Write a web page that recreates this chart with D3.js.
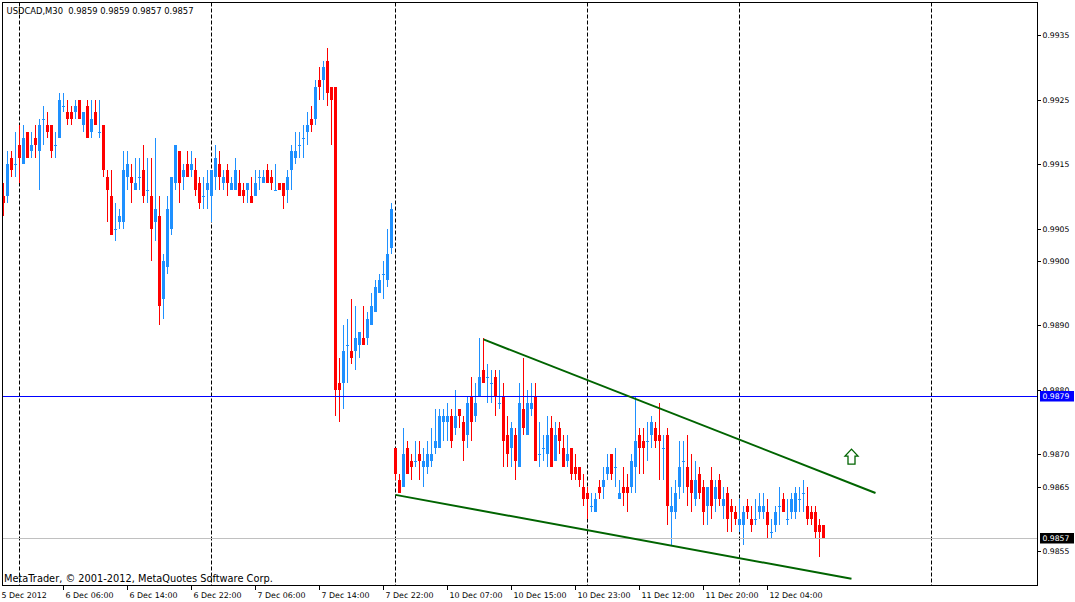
<!DOCTYPE html>
<html>
<head>
<meta charset="utf-8">
<script src="https://cdnjs.cloudflare.com/ajax/libs/d3/7.8.5/d3.min.js"></script>
<style>
    html, body { margin: 0; padding: 0; background: #ffffff; overflow: hidden; }
    text { font-family: "DejaVu Sans", sans-serif; fill: #000000; }
</style>
</head>
<body>
<script>
// USDCAD M30 bars (one entry per bar, left to right)
let symbol = "USDCAD,M30";

let opens = [
    0.9910, 0.9910, 0.9916, 0.9915, 0.9918, 0.9915, 0.9920, 0.9917, 0.9919, 0.9917,
    0.9922, 0.9921, 0.9921, 0.9918, 0.9919, 0.9924, 0.9923, 0.9923, 0.9923, 0.9925,
    0.9921, 0.9924, 0.9920, 0.9923, 0.9920, 0.9921, 0.9913, 0.9910, 0.9905, 0.9906,
    0.9906, 0.9913, 0.9913, 0.9911, 0.9913, 0.9914, 0.9911, 0.9910, 0.9906, 0.9907,
    0.9894, 0.9899, 0.9905, 0.9912, 0.9917, 0.9913, 0.9915, 0.9914, 0.9914, 0.9912,
    0.9910, 0.9911, 0.9910, 0.9913, 0.9915, 0.9912, 0.9914, 0.9911, 0.9911, 0.9912,
    0.9911, 0.9911, 0.9910, 0.9910, 0.9913, 0.9912, 0.9914, 0.9913, 0.9911, 0.9912,
    0.9912, 0.9911, 0.9914, 0.9916, 0.9918, 0.9919, 0.9920, 0.9922, 0.9922, 0.9928,
    0.9928, 0.9931, 0.9927, 0.9927, 0.9881, 0.9881, 0.9887, 0.9886, 0.9886, 0.9887,
    0.9888, 0.9888, 0.9890, 0.9892, 0.9895, 0.9898, 0.9897, 0.9902, 0.9871, 0.9866,
    0.9865, 0.9871, 0.9869, 0.9869, 0.9870, 0.9868, 0.9868, 0.9869, 0.9871, 0.9871,
    0.9875, 0.9875, 0.9876, 0.9874, 0.9877, 0.9875, 0.9873, 0.9879, 0.9876, 0.9879,
    0.9883, 0.9882, 0.9881, 0.9882, 0.9878, 0.9879, 0.9873, 0.9871, 0.9873, 0.9868,
    0.9877, 0.9873, 0.9877, 0.9879, 0.9870, 0.9871, 0.9870, 0.9874, 0.9869, 0.9874,
    0.9871, 0.9869, 0.9871, 0.9868, 0.9868, 0.9865, 0.9864, 0.9862, 0.9861, 0.9865,
    0.9865, 0.9867, 0.9870, 0.9868, 0.9863, 0.9865, 0.9865, 0.9865, 0.9868, 0.9873,
    0.9872, 0.9872, 0.9873, 0.9874, 0.9873, 0.9871, 0.9873, 0.9861, 0.9861, 0.9865,
    0.9869, 0.9868, 0.9866, 0.9863, 0.9867, 0.9865, 0.9862, 0.9866, 0.9863, 0.9866,
    0.9862, 0.9864, 0.9862, 0.9861, 0.9859, 0.9859, 0.9862, 0.9860, 0.9860, 0.9861,
    0.9861, 0.9861, 0.9858, 0.9859, 0.9862, 0.9863, 0.9860, 0.9861, 0.9861, 0.9863,
    0.9864, 0.9862, 0.9861, 0.9861, 0.9859, 0.9859
];
let highs = [
    0.9912, 0.9917, 0.9917, 0.9920, 0.9921, 0.9921, 0.9920, 0.9920, 0.9921, 0.9922,
    0.9924, 0.9923, 0.9921, 0.9920, 0.9926, 0.9926, 0.9925, 0.9924, 0.9925, 0.9925,
    0.9923, 0.9925, 0.9925, 0.9925, 0.9925, 0.9921, 0.9914, 0.9914, 0.9909, 0.9908,
    0.9917, 0.9917, 0.9915, 0.9916, 0.9916, 0.9918, 0.9916, 0.9916, 0.9919, 0.9910,
    0.9901, 0.9910, 0.9913, 0.9918, 0.9917, 0.9915, 0.9917, 0.9917, 0.9916, 0.9913,
    0.9913, 0.9914, 0.9914, 0.9918, 0.9917, 0.9914, 0.9915, 0.9913, 0.9916, 0.9914,
    0.9912, 0.9912, 0.9913, 0.9914, 0.9914, 0.9914, 0.9915, 0.9914, 0.9915, 0.9912,
    0.9912, 0.9914, 0.9918, 0.9920, 0.9920, 0.9921, 0.9923, 0.9924, 0.9928, 0.9930,
    0.9931, 0.9933, 0.9927, 0.9927, 0.9885, 0.9890, 0.9891, 0.9894, 0.9893, 0.9889,
    0.9893, 0.9892, 0.9895, 0.9897, 0.9898, 0.9900, 0.9905, 0.9909, 0.9871, 0.9867,
    0.9874, 0.9872, 0.9870, 0.9872, 0.9872, 0.9871, 0.9872, 0.9874, 0.9877, 0.9877,
    0.9877, 0.9878, 0.9877, 0.9880, 0.9877, 0.9876, 0.9879, 0.9882, 0.9881, 0.9888,
    0.9888, 0.9884, 0.9883, 0.9883, 0.9883, 0.9881, 0.9876, 0.9875, 0.9874, 0.9881,
    0.9885, 0.9880, 0.9881, 0.9881, 0.9875, 0.9873, 0.9876, 0.9876, 0.9875, 0.9875,
    0.9873, 0.9873, 0.9871, 0.9870, 0.9868, 0.9867, 0.9865, 0.9864, 0.9864, 0.9866,
    0.9868, 0.9870, 0.9870, 0.9871, 0.9866, 0.9868, 0.9867, 0.9870, 0.9879, 0.9874,
    0.9874, 0.9875, 0.9876, 0.9875, 0.9878, 0.9873, 0.9874, 0.9865, 0.9866, 0.9872,
    0.9872, 0.9873, 0.9870, 0.9869, 0.9868, 0.9866, 0.9865, 0.9868, 0.9866, 0.9867,
    0.9865, 0.9865, 0.9863, 0.9862, 0.9863, 0.9862, 0.9863, 0.9862, 0.9863, 0.9864,
    0.9864, 0.9863, 0.9860, 0.9862, 0.9865, 0.9864, 0.9863, 0.9864, 0.9865, 0.9865,
    0.9866, 0.9865, 0.9862, 0.9862, 0.9860, 0.9859
];
let lows = [
    0.9907, 0.9909, 0.9913, 0.9913, 0.9912, 0.9915, 0.9916, 0.9916, 0.9916, 0.9911,
    0.9918, 0.9919, 0.9916, 0.9916, 0.9919, 0.9923, 0.9921, 0.9921, 0.9922, 0.9922,
    0.9920, 0.9919, 0.9919, 0.9921, 0.9919, 0.9913, 0.9906, 0.9904, 0.9903, 0.9905,
    0.9905, 0.9911, 0.9909, 0.9911, 0.9911, 0.9909, 0.9909, 0.9900, 0.9903, 0.9890,
    0.9891, 0.9898, 0.9904, 0.9911, 0.9909, 0.9911, 0.9913, 0.9913, 0.9910, 0.9908,
    0.9908, 0.9908, 0.9906, 0.9911, 0.9911, 0.9911, 0.9910, 0.9911, 0.9911, 0.9910,
    0.9909, 0.9909, 0.9909, 0.9910, 0.9911, 0.9912, 0.9912, 0.9911, 0.9911, 0.9911,
    0.9908, 0.9909, 0.9911, 0.9915, 0.9916, 0.9916, 0.9918, 0.9920, 0.9921, 0.9925,
    0.9925, 0.9924, 0.9918, 0.9876, 0.9875, 0.9877, 0.9881, 0.9884, 0.9883, 0.9885,
    0.9887, 0.9887, 0.9890, 0.9892, 0.9895, 0.9894, 0.9896, 0.9901, 0.9866, 0.9864,
    0.9865, 0.9867, 0.9866, 0.9868, 0.9866, 0.9865, 0.9867, 0.9868, 0.9870, 0.9871,
    0.9872, 0.9872, 0.9871, 0.9873, 0.9874, 0.9869, 0.9871, 0.9872, 0.9875, 0.9879,
    0.9881, 0.9878, 0.9878, 0.9876, 0.9877, 0.9868, 0.9868, 0.9868, 0.9866, 0.9868,
    0.9873, 0.9873, 0.9876, 0.9869, 0.9868, 0.9869, 0.9868, 0.9868, 0.9869, 0.9870,
    0.9868, 0.9868, 0.9866, 0.9866, 0.9865, 0.9862, 0.9860, 0.9861, 0.9861, 0.9863,
    0.9863, 0.9866, 0.9866, 0.9865, 0.9863, 0.9862, 0.9861, 0.9864, 0.9864, 0.9867,
    0.9867, 0.9869, 0.9871, 0.9871, 0.9866, 0.9866, 0.9859, 0.9856, 0.9860, 0.9863,
    0.9864, 0.9862, 0.9861, 0.9862, 0.9863, 0.9859, 0.9859, 0.9860, 0.9861, 0.9862,
    0.9860, 0.9858, 0.9858, 0.9859, 0.9858, 0.9856, 0.9860, 0.9858, 0.9859, 0.9860,
    0.9860, 0.9857, 0.9857, 0.9858, 0.9859, 0.9861, 0.9859, 0.9860, 0.9860, 0.9861,
    0.9861, 0.9859, 0.9859, 0.9857, 0.9854, 0.9857
];
let closes = [
    0.9909, 0.9915, 0.9914, 0.9915, 0.9916, 0.9919, 0.9916, 0.9918, 0.9918, 0.9921,
    0.9922, 0.9920, 0.9917, 0.9918, 0.9925, 0.9924, 0.9922, 0.9922, 0.9924, 0.9922,
    0.9923, 0.9919, 0.9922, 0.9921, 0.9920, 0.9914, 0.9911, 0.9904, 0.9905, 0.9907,
    0.9914, 0.9915, 0.9912, 0.9912, 0.9913, 0.9910, 0.9911, 0.9905, 0.9908, 0.9893,
    0.9900, 0.9908, 0.9913, 0.9918, 0.9912, 0.9914, 0.9913, 0.9915, 0.9911, 0.9909,
    0.9910, 0.9912, 0.9914, 0.9916, 0.9913, 0.9913, 0.9912, 0.9912, 0.9914, 0.9910,
    0.9910, 0.9912, 0.9909, 0.9912, 0.9913, 0.9913, 0.9912, 0.9912, 0.9911, 0.9911,
    0.9910, 0.9913, 0.9917, 0.9917, 0.9918, 0.9919, 0.9921, 0.9921, 0.9927, 0.9927,
    0.9930, 0.9926, 0.9925, 0.9880, 0.9880, 0.9886, 0.9887, 0.9885, 0.9888, 0.9889,
    0.9887, 0.9891, 0.9893, 0.9896, 0.9897, 0.9898, 0.9901, 0.9908, 0.9867, 0.9864,
    0.9870, 0.9867, 0.9868, 0.9869, 0.9869, 0.9869, 0.9870, 0.9870, 0.9872, 0.9876,
    0.9876, 0.9876, 0.9872, 0.9876, 0.9876, 0.9872, 0.9878, 0.9875, 0.9878, 0.9882,
    0.9881, 0.9882, 0.9881, 0.9879, 0.9878, 0.9872, 0.9870, 0.9874, 0.9869, 0.9878,
    0.9874, 0.9878, 0.9878, 0.9869, 0.9870, 0.9871, 0.9873, 0.9868, 0.9873, 0.9872,
    0.9868, 0.9870, 0.9867, 0.9867, 0.9866, 0.9863, 0.9863, 0.9862, 0.9863, 0.9864,
    0.9866, 0.9868, 0.9867, 0.9868, 0.9864, 0.9864, 0.9864, 0.9869, 0.9872, 0.9871,
    0.9871, 0.9872, 0.9875, 0.9872, 0.9872, 0.9871, 0.9862, 0.9862, 0.9864, 0.9868,
    0.9869, 0.9865, 0.9864, 0.9866, 0.9864, 0.9861, 0.9865, 0.9862, 0.9865, 0.9863,
    0.9863, 0.9860, 0.9861, 0.9860, 0.9860, 0.9861, 0.9861, 0.9859, 0.9860, 0.9862,
    0.9862, 0.9859, 0.9858, 0.9861, 0.9862, 0.9861, 0.9860, 0.9863, 0.9864, 0.9863,
    0.9864, 0.9860, 0.9860, 0.9858, 0.9858, 0.9857
];

let priceTicks = [0.9935, 0.9925, 0.9915, 0.9905, 0.9900, 0.9890, 0.9880, 0.9870, 0.9865, 0.9855];

let timeLabels = ["5 Dec 2012", "6 Dec 06:00", "6 Dec 14:00", "6 Dec 22:00", "7 Dec 06:00", "7 Dec 14:00",
    "7 Dec 22:00", "10 Dec 07:00", "10 Dec 15:00", "10 Dec 23:00", "11 Dec 12:00", "11 Dec 20:00", "12 Dec 04:00"];
let timeLabelBars = [-1, 15, 31, 47, 63, 79, 95, 111, 127, 143, 159, 175, 191];

// first bar of each trading day (period separators)
let daySeparatorBars = [4, 52, 98, 146, 184, 232];

let levelPrice = 0.9879;
let bidPrice = 0.9857;

let upperTrend = [{bar: 120, price: 0.98878}, {bar: 218, price: 0.98640}];
let lowerTrend = [{bar: 98, price: 0.98637}, {bar: 212, price: 0.98507}];
let arrowMark = {bar: 212, price: 0.98708};

let copyright = "MetaTrader, \u00a9 2001-2012, MetaQuotes Software Corp.";

let bullColor = "#1e90ff",
    bearColor = "#ff0000",
    trendColor = "#006400";

let svgContainer,
    svgWidth = 1075,
    svgHeight = 602,
    plot = {left: 2.5, top: 2.5, right: 1037.5, bottom: 585.5};

let xScale = d3.scaleLinear().domain([0, 258]).range([3.5, 1035.5]);
let yScale = d3.scaleLinear().domain([0.9855, 0.9935]).range([551, 35]);
let fmt = d3.format(".4f");

function init() {
    drawSvgContainer();
    drawSeparators();
    drawCandles();
    drawLevels();
    drawTrendLines();
    drawArrow();
    drawFrame();
    drawPriceAxis();
    drawTimeAxis();
    drawTexts();
}

function drawSvgContainer() {
    svgContainer = d3.select("body").append("svg")
        .attr("width", svgWidth)
        .attr("height", svgHeight);

    svgContainer.append("defs").append("clipPath")
        .attr("id", "plotClip")
        .append("rect")
        .attr("x", plot.left)
        .attr("y", plot.top)
        .attr("width", plot.right - plot.left)
        .attr("height", plot.bottom - plot.top);
}

function drawSeparators() {
    svgContainer.append("g")
        .selectAll("line")
        .data(daySeparatorBars)
        .enter()
        .append("line")
        .attr("x1", d => xScale(d))
        .attr("x2", d => xScale(d))
        .attr("y1", plot.top)
        .attr("y2", plot.bottom)
        .attr("stroke", "#000000")
        .attr("stroke-width", 1)
        .attr("stroke-dasharray", "4,2");
}

function drawCandles() {
    let bars = opens.map((o, i) => ({i: i, o: o, h: highs[i], l: lows[i], c: closes[i]}));
    let g = svgContainer.append("g")
        .attr("clip-path", "url(#plotClip)")
        .attr("shape-rendering", "crispEdges");

    let candle = g.selectAll("g")
        .data(bars)
        .enter()
        .append("g")
        .attr("fill", d => d.c >= d.o ? bullColor : bearColor);

    candle.append("rect")
        .attr("x", d => xScale(d.i) - 0.5)
        .attr("width", 1)
        .attr("y", d => yScale(d.h))
        .attr("height", d => Math.max(1, yScale(d.l) - yScale(d.h)));

    candle.append("rect")
        .attr("x", d => xScale(d.i) - 1.5)
        .attr("width", 3)
        .attr("y", d => yScale(Math.max(d.o, d.c)))
        .attr("height", d => Math.max(1, yScale(Math.min(d.o, d.c)) - yScale(Math.max(d.o, d.c))));
}

function drawLevels() {
    let levels = [{price: levelPrice, color: "#0000ff"}, {price: bidPrice, color: "#c0c0c0"}];
    svgContainer.append("g")
        .selectAll("line")
        .data(levels)
        .enter()
        .append("line")
        .attr("x1", plot.left)
        .attr("x2", plot.right)
        .attr("y1", d => Math.round(yScale(d.price)) + 0.5)
        .attr("y2", d => Math.round(yScale(d.price)) + 0.5)
        .attr("stroke", d => d.color)
        .attr("stroke-width", 1);
}

function drawTrendLines() {
    let line = d3.line()
        .x(d => xScale(d.bar))
        .y(d => yScale(d.price));

    svgContainer.append("g")
        .attr("clip-path", "url(#plotClip)")
        .selectAll("path")
        .data([upperTrend, lowerTrend])
        .enter()
        .append("path")
        .attr("d", line)
        .attr("fill", "none")
        .attr("stroke", trendColor)
        .attr("stroke-width", 2);
}

function drawArrow() {
    let ax = xScale(arrowMark.bar),
        ay = yScale(arrowMark.price);
    svgContainer.append("path")
        .attr("transform", "translate(" + ax + "," + ay + ")")
        .attr("d", "M0,0 L6.5,7 L3.5,7 L3.5,15 L-3.5,15 L-3.5,7 L-6.5,7 Z")
        .attr("fill", "#ffffff")
        .attr("stroke", trendColor)
        .attr("stroke-width", 1.3);
}

function drawFrame() {
    svgContainer.append("rect")
        .attr("x", plot.left)
        .attr("y", plot.top)
        .attr("width", plot.right - plot.left)
        .attr("height", plot.bottom - plot.top)
        .attr("fill", "none")
        .attr("stroke", "#000000")
        .attr("stroke-width", 1);
}

function drawPriceAxis() {
    let g = svgContainer.append("g");
    let tick = g.selectAll("g.tick")
        .data(priceTicks)
        .enter()
        .append("g")
        .attr("class", "tick")
        .attr("transform", d => "translate(0," + (Math.round(yScale(d)) + 0.5) + ")");

    tick.append("line")
        .attr("x1", plot.right)
        .attr("x2", plot.right + 3.5)
        .attr("stroke", "#000000");

    tick.append("text")
        .attr("x", plot.right + 5)
        .attr("dy", "0.35em")
        .style("font-size", "7.7px")
        .text(d => fmt(d));

    // price boxes on the right edge
    let boxes = [{price: levelPrice, color: "#0000ff"}, {price: bidPrice, color: "#000000"}];
    let box = g.selectAll("g.box")
        .data(boxes)
        .enter()
        .append("g")
        .attr("class", "box")
        .attr("transform", d => "translate(0," + (Math.round(yScale(d.price)) + 0.5) + ")");

    box.append("rect")
        .attr("x", plot.right + 2.5)
        .attr("y", -5.5)
        .attr("width", 34)
        .attr("height", 10.5)
        .attr("fill", d => d.color);

    box.append("text")
        .attr("x", plot.right + 5)
        .attr("dy", "0.35em")
        .style("font-size", "7.7px")
        .style("fill", "#ffffff")
        .text(d => fmt(d.price));
}

function drawTimeAxis() {
    let g = svgContainer.append("g");
    let tick = g.selectAll("g")
        .data(timeLabels)
        .enter()
        .append("g")
        .attr("transform", (d, i) => "translate(" + xScale(timeLabelBars[i]) + ",0)");

    tick.append("line")
        .attr("y1", plot.bottom)
        .attr("y2", plot.bottom + 4.5)
        .attr("stroke", "#000000");

    tick.append("text")
        .attr("x", 2)
        .attr("y", 598)
        .style("font-size", "7.9px")
        .text(d => d);
}

function drawTexts() {
    let last = opens.length - 1;
    let title = symbol + "  " + [opens[last], highs[last], lows[last], closes[last]].map(fmt).join(" ");

    svgContainer.append("text")
        .attr("x", 6.5)
        .attr("y", 14)
        .style("font-size", "8.4px")
        .style("white-space", "pre")
        .text(title);

    svgContainer.append("text")
        .attr("x", 4)
        .attr("y", 581.5)
        .style("font-size", "9.8px")
        .text(copyright);
}

init();
</script>
</body>
</html>
